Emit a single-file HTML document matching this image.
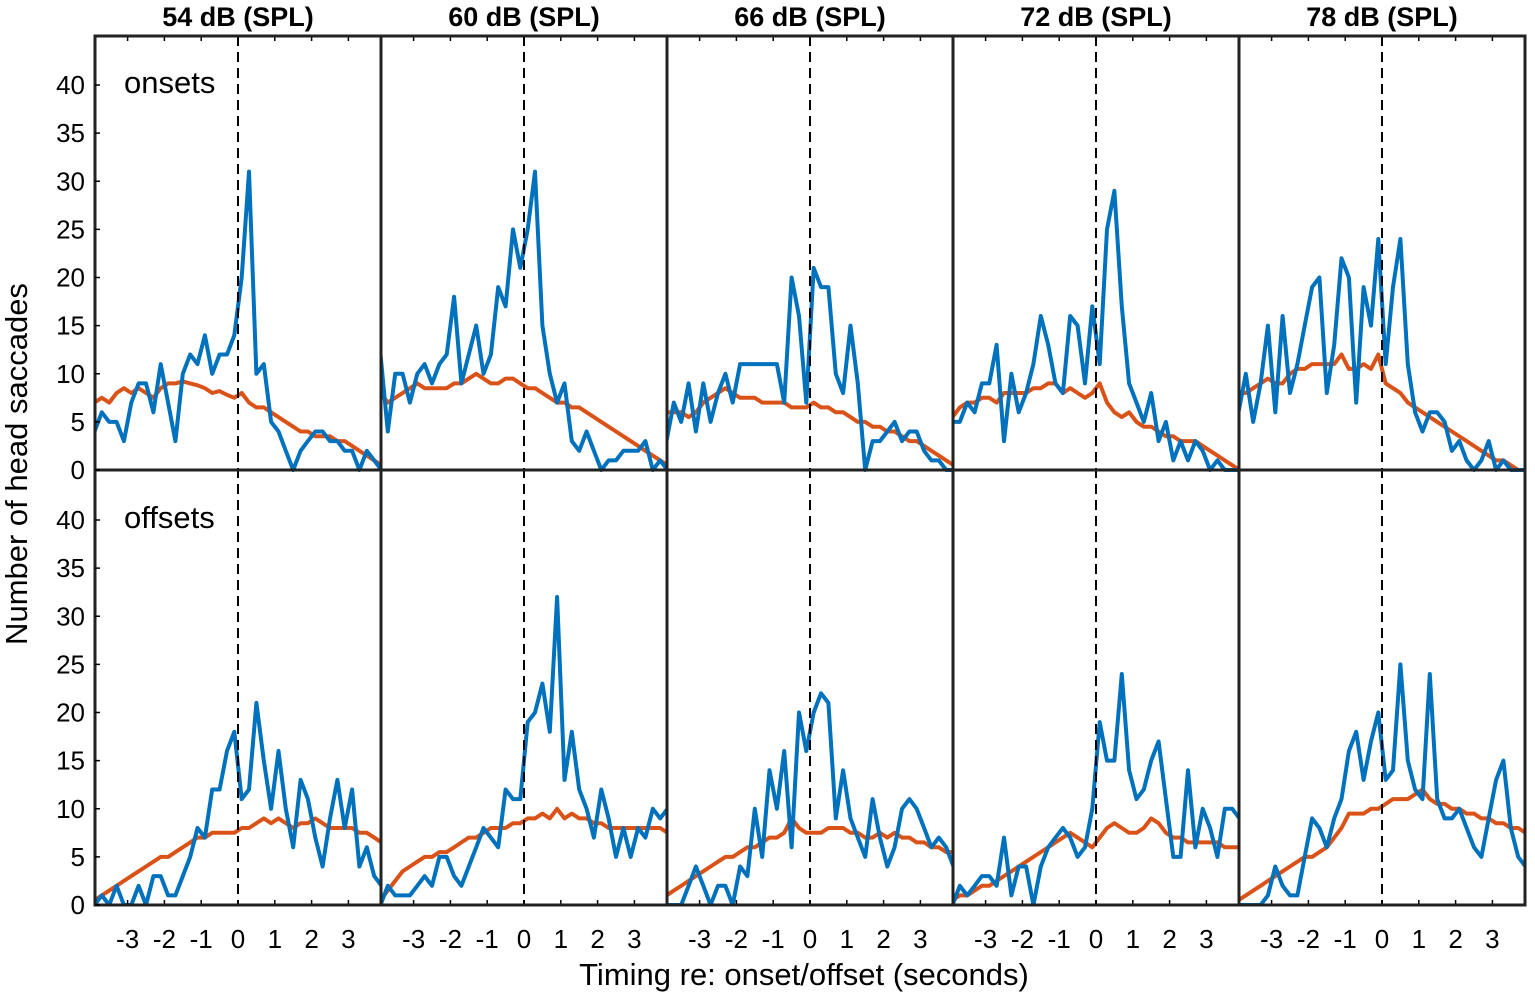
<!DOCTYPE html>
<html><head><meta charset="utf-8"><style>
html,body{margin:0;padding:0;background:#fff;}
svg{display:block;font-family:"Liberation Sans",Arial,sans-serif;}
</style></head><body>
<svg id="s" width="1535" height="999" xmlns="http://www.w3.org/2000/svg"></svg>
<script>
const S=document.getElementById('s');
const L=95,W=286,T0=36,Y0top=470,Y0bot=905,ys=9.625,xs=36.8;
const titles=["54 dB (SPL)","60 dB (SPL)","66 dB (SPL)","72 dB (SPL)","78 dB (SPL)"];
const B=[[
[4,6,5,5,3,7,9,9,6,11,7,3,10,12,11,14,10,12,12,14,20,31,10,11,5,4,2,0,2,3,4,4,3,3,2,2,0,2,1,0],
[7,7.5,7,8,8.5,8,8.5,8,7.5,8.5,9,9,9.2,9,8.8,8.5,8,8.2,7.8,7.5,8,7,6.5,6.5,6,5.5,5,4.5,4,4,3.5,3.5,3.5,3,3,2.5,2,1.5,1,0.5],
[0,1,0,2,0,0,2,0,3,3,1,1,3,5,8,7,12,12,16,18,11,12,21,15,10,16,10,6,13,11,7,4,9,13,8,12,4,6,3,2],
[0.5,1,1.5,2,2.5,3,3.5,4,4.5,5,5,5.5,6,6.5,7,7,7.5,7.5,7.5,7.5,8,8,8.5,9,8.5,9,8.5,8,8.5,8.5,9,8.5,8,8,8,8,7.5,7.5,7,6.5]],
[[12,4,10,10,7,10,11,9,11,12,18,9,12,15,10,12,19,17,25,21,25,31,15,10,7,9,3,2,4,2,0,1,1,2,2,2,3,0,1,0],
[8,7,7.5,8,8.5,9,8.5,8.5,8.5,8.5,9,9,9.5,10,9.5,9,9,9.5,9.5,9,8.5,8.5,8,7.5,7,7,6.5,6.5,6,5.5,5,4.5,4,3.5,3,2.5,2,1.5,1,0.5],
[0,2,1,1,1,2,3,2,5,5,3,2,4,6,8,7,6,12,11,11,19,20,23,18,32,13,18,12,10,7,12,9,5,8,5,8,7,10,9,10],
[0.5,1.5,2.5,3.5,4,4.5,5,5,5.5,5.5,6,6.5,7,7,7.5,8,8,8,8.5,8.5,9,9,9.5,9,10,9,9.5,9,9,8.5,8.5,8,8,8,8,8,8,8,8,7.5]],
[[3,7,5,9,4,9,5,8,10,7,11,11,11,11,11,11,7,20,16,7,21,19,19,10,8,15,9,0,3,3,4,5,3,4,4,2,1,1,0,0],
[6,6,6,5.5,6,7,7.5,8,8.5,8,7.5,7.5,7.5,7,7,7,7,6.5,6.5,6.5,7,6.5,6.5,6,6,5.5,5,5,4.5,4.5,4,4,3.5,3,3,2.5,2,1.5,1,0.5],
[0,0,0,2,4,2,0,2,2,0,4,3,10,5,14,10,16,6,20,16,20,22,21,9,14,9,7,5,11,7,4,6,10,11,10,8,6,7,6,4],
[1,1.5,2,2.5,3,3.5,4,4.5,5,5,5.5,6,6,6.5,7,7,7.5,9,8,7.5,7.5,7.5,8,8,8,7.5,7.5,7,7,7.5,7,7.5,7,7,6.5,6.5,6,6,5.5,5.5]],
[[5,5,7,6,9,9,13,3,10,6,8,11,16,13,9,8,16,15,9,17,11,25,29,17,9,7,5,8,3,5,1,3,1,3,2,0,1,0,0,0],
[5.5,6.5,7,7,7.5,7.5,7,8,8,8,8,8.5,8.5,9,9,8,8.5,8,7.5,8,9,7,6,5.5,6,5,4.5,4.5,4,3.5,3.5,3,3,3,2.5,2,1.5,1,0.5,0],
[0,2,1,2,3,3,2,7,1,4,4,0,4,6,7,8,7,5,6,10,19,15,15,24,14,11,12,15,17,11,5,5,14,6,10,8,5,10,10,9],
[0.5,1,1,1.5,2,2,2.5,3,3.5,4,4.5,5,5.5,6,6.5,7,7.5,7,6.5,6,7,8,8.5,8,7.5,7.5,8,9,8.5,7.5,7,7,6.5,6.5,6.5,6.5,6.5,6,6,6]],
[[6,10,5,9,15,6,16,8,11,15,19,20,8,13,22,20,7,19,15,24,11,19,24,11,6,4,6,6,5,2,3,1,0,1,3,0,1,0,0,0],
[8,8,8.5,9,9.5,9,9,10,10.5,10.5,11,11,11,11,12,10.5,10.5,11,10.5,12,9,8.5,8,7,6.5,6,5.5,5,4.5,4,3.5,3,2.5,2,1.5,1,1,0.5,0,0],
[0,0,0,0,1,4,2,1,1,5,9,8,6,9,11,16,18,13,17,20,13,14,25,15,12,11,24,11,9,9,10,8,6,5,9,13,15,8,5,4],
[0.5,1,1.5,2,2.5,3,3.5,4,4.5,5,5,5.5,6,7,8,9.5,9.5,9.5,10,10,10.5,11,11,11,11.5,12,11,10.5,10.5,10,10,9.5,9.5,9,9,8.5,8.5,8,8,7.5]]];
let h='<defs>';
for(let c=0;c<5;c++)h+=`<clipPath id="c${c}"><rect x="${L+c*W}" y="${T0}" width="${W}" height="${Y0bot-T0}"/></clipPath>`;
h+='</defs>';
function path(c,arr,y0){const cx=L+c*W+W/2;return arr.map((v,i)=>(i?'L':'M')+(cx+(-3.9+i*0.2)*xs).toFixed(1)+','+(y0-v*ys).toFixed(1)).join('');}
for(let c=0;c<5;c++){
 const cx=L+c*W+W/2;
 h+=`<g clip-path="url(#c${c})">`;
 const d=B[c];
 h+=`<path d="${path(c,d[1],Y0top)}" fill="none" stroke="#D95319" stroke-width="4" stroke-linejoin="round"/>`;
 h+=`<path d="${path(c,d[0],Y0top)}" fill="none" stroke="#0072BD" stroke-width="4" stroke-linejoin="round"/>`;
 h+=`<path d="${path(c,d[3],Y0bot)}" fill="none" stroke="#D95319" stroke-width="4" stroke-linejoin="round"/>`;
 h+=`<path d="${path(c,d[2],Y0bot)}" fill="none" stroke="#0072BD" stroke-width="4" stroke-linejoin="round"/>`;
 h+='</g>';
 h+=`<line x1="${cx}" y1="${T0}" x2="${cx}" y2="${Y0bot}" stroke="#000" stroke-width="2" stroke-dasharray="10,6"/>`;
 h+=`<text x="${cx}" y="26" text-anchor="middle" font-size="27" font-weight="bold">${titles[c]}</text>`;
 for(let t=-3;t<=3;t++){const x=cx+t*xs;
  h+=`<text x="${x}" y="948" text-anchor="middle" font-size="26">${t}</text>`;
  h+=`<line x1="${x}" y1="${Y0bot}" x2="${x}" y2="${Y0bot-5}" stroke="#000" stroke-width="1.5"/>`;
  h+=`<line x1="${x}" y1="${T0}" x2="${x}" y2="${T0+5}" stroke="#000" stroke-width="1.5"/>`;
 }
 h+=`<rect x="${L+c*W}" y="${T0}" width="${W}" height="${Y0bot-T0}" fill="none" stroke="#222" stroke-width="3"/>`;
}
h+=`<line x1="${L}" y1="${Y0top}" x2="${L+5*W}" y2="${Y0top}" stroke="#222" stroke-width="3"/>`;
for(const y0 of [Y0top,Y0bot])for(let v=0;v<=40;v+=5){const y=y0-v*ys;
 h+=`<text x="85" y="${y+9}" text-anchor="end" font-size="26">${v}</text>`;
 h+=`<line x1="${L}" y1="${y}" x2="${L+5}" y2="${y}" stroke="#000" stroke-width="1.5"/>`;}
h+=`<text x="124" y="93" font-size="31">onsets</text><text x="124" y="528" font-size="31">offsets</text>`;
h+=`<text x="804" y="985" text-anchor="middle" font-size="31">Timing re: onset/offset (seconds)</text>`;
h+=`<text transform="translate(27,464) rotate(-90)" text-anchor="middle" font-size="31">Number of head saccades</text>`;
S.innerHTML=h;
</script>
</body></html>
